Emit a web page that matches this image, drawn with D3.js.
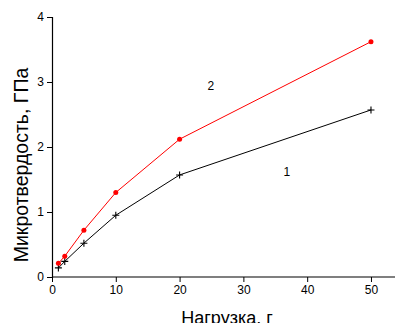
<!DOCTYPE html>
<html>
<head>
<meta charset="utf-8">
<script src="https://cdn.jsdelivr.net/npm/d3@7"></script>
<style>
  body { margin: 0; background: #fff; }
  svg { display: block; font-family: "Liberation Sans", Arial, sans-serif; }
</style>
</head>
<body>
<div id="chart"></div>
<script>
const loads = [1, 2, 5, 10, 20, 50];
const series1 = [0.14, 0.24, 0.52, 0.95, 1.57, 2.57];
const series2 = [0.21, 0.32, 0.72, 1.30, 2.12, 3.62];
const xTicks = [0, 10, 20, 30, 40, 50];
const yTicks = [0, 1, 2, 3, 4];
const curveLabels = [
  { text: "2", x: 24.9, y: 2.92 },
  { text: "1", x: 36.8, y: 1.6 }
];

const width = 395, height = 323;

const svg = d3.select("#chart").append("svg")
  .attr("width", width)
  .attr("height", height);

const x = d3.scaleLinear().domain([0, 54]).range([52, 396.5]);
const y = d3.scaleLinear().domain([0, 4]).range([277, 17]);

// axes with minor ticks
const xAxis = svg.append("g").attr("transform", `translate(0,${y(0)})`);
xAxis.call(d3.axisBottom(x).tickValues(d3.range(5, 54, 10)).tickSize(3).tickFormat(""));
xAxis.call(d3.axisBottom(x).tickValues(xTicks).tickSize(5).tickPadding(3).tickFormat(d3.format("d")));
xAxis.selectAll(".domain").attr("stroke-width", 1.2);
xAxis.select(".domain").attr("d", `M${x(0)},0H${width}`);

const yAxis = svg.append("g").attr("transform", `translate(${x(0)},0)`);
yAxis.call(d3.axisLeft(y).tickValues(d3.range(0.5, 4, 1)).tickSize(3).tickFormat(""));
yAxis.call(d3.axisLeft(y).tickValues(yTicks).tickSize(5).tickPadding(3).tickFormat(d3.format("d")));
yAxis.selectAll(".domain").attr("stroke-width", 1.2);

svg.selectAll(".tick text").attr("font-size", 12).attr("fill", "#000")
  .attr("font-family", "Liberation Sans, Arial, sans-serif");

// axis titles
svg.append("text")
  .attr("x", 227).attr("y", 324)
  .attr("text-anchor", "middle")
  .attr("font-size", 18)
  .text("Нагрузка, г");

svg.append("text")
  .attr("transform", "translate(28,165) rotate(-90)")
  .attr("text-anchor", "middle")
  .attr("font-size", 19.5)
  .text("Микротвердость, ГПа");

const line = d3.line().x(d => x(d[0])).y(d => y(d[1]));
const pts1 = loads.map((l, i) => [l, series1[i]]);
const pts2 = loads.map((l, i) => [l, series2[i]]);

svg.append("path").datum(pts1)
  .attr("d", line).attr("fill", "none").attr("stroke", "#000").attr("stroke-width", 1);
svg.append("path").datum(pts2)
  .attr("d", line).attr("fill", "none").attr("stroke", "#ff0000").attr("stroke-width", 1);

svg.selectAll(".plus").data(pts1).join("path")
  .attr("class", "plus")
  .attr("d", d => `M${x(d[0]) - 3.5},${y(d[1])}h7M${x(d[0])},${y(d[1]) - 3.5}v7`)
  .attr("stroke", "#000").attr("stroke-width", 1.1);

svg.selectAll(".dot").data(pts2).join("circle")
  .attr("class", "dot")
  .attr("cx", d => x(d[0])).attr("cy", d => y(d[1]))
  .attr("r", 2.5).attr("fill", "#ff0000");

svg.selectAll(".clabel").data(curveLabels).join("text")
  .attr("class", "clabel")
  .attr("x", d => x(d.x)).attr("y", d => y(d.y))
  .attr("text-anchor", "middle").attr("dominant-baseline", "middle")
  .attr("font-size", 12)
  .text(d => d.text);
</script>
</body>
</html>
